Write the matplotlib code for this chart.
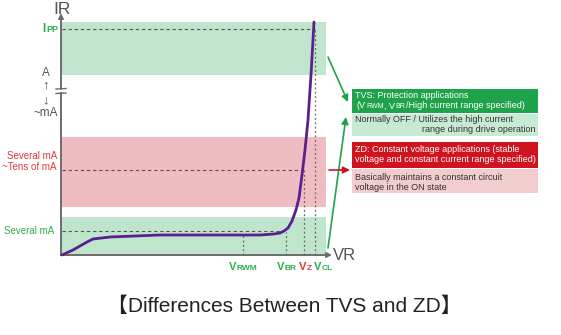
import matplotlib
matplotlib.use("Agg")
import matplotlib.pyplot as plt
from matplotlib.patches import Rectangle
from matplotlib.offsetbox import TextArea, HPacker, AnnotationBbox

plt.rcParams['font.family'] = ['Liberation Sans', 'Noto Sans CJK JP', 'DejaVu Sans']

# diagram units: origin of the IR/VR axes at (0, 0)
curve_v = [1, 12, 26, 32, 49, 99, 199, 213, 219, 223, 227, 231, 235, 238, 241, 244, 247, 250, 253]
curve_i = [0, 5, 13, 16, 18, 20, 20, 21, 22, 24, 27, 34, 45, 57, 80, 105, 135, 180, 233]

# current levels (dashed lines) and bands
i_pp = 226
i_zd = 85
i_low = 24
bands = [(180, 233, 'tvs'), (48, 118, 'zd'), (0, 38, 'tvs')]

# voltage markers
v_subs = ['RWM', 'BR', 'Z', 'CL']
v_pos = [182, 225, 243, 254]
v_top = [20, 23, i_zd, i_pp]
v_col = ['g', 'g', 'r', 'g']

GREEN_BAND = '#bfe5cc'
RED_BAND = '#efbdc1'
GREEN_TXT = '#2fae4e'
RED_TXT = '#e8353c'
DARK_GREEN = '#1fa34a'
DARK_RED = '#cf1420'
LIGHT_GREEN = '#c8e9d2'
LIGHT_RED = '#f1cdd0'
PURPLE = '#5b1f8e'
AXIS = '#6b6b6b'

fig = plt.figure(figsize=(5.61, 3.35), dpi=100)
ax = fig.add_axes([0, 0, 1, 1])
ax.set_xlim(-61, 500)
ax.set_ylim(-80, 255)
ax.axis('off')


def packed(x, y, parts, color, align=(0.5, 0.5), weight='bold'):
    """Row of text pieces (size, text) sharing one baseline."""
    kids = [TextArea(s, textprops=dict(fontsize=fs, fontweight=weight, color=color))
            for fs, s in parts]
    pack = HPacker(children=kids, align='baseline', pad=0, sep=0.3)
    ab = AnnotationBbox(pack, (x, y), box_alignment=align, frameon=False, pad=0, zorder=5)
    ax.add_artist(ab)


# bands
for lo, hi, kind in bands:
    ax.add_patch(Rectangle((1, lo), 264, hi - lo,
                           color=GREEN_BAND if kind == 'tvs' else RED_BAND, lw=0, zorder=1))

# dashed current levels
dash = dict(ls=(0, (3, 2.5)), color='#555555', lw=0.8, zorder=2)
ax.plot([1, v_pos[3]], [i_pp, i_pp], **dash)
ax.plot([1, v_pos[2]], [i_zd, i_zd], **dash)
ax.plot([1, 222], [i_low, i_low], **dash)

# dotted voltage markers
for x, top in zip(v_pos, v_top):
    ax.plot([x, x], [0, top], ls=(0, (1.5, 2)), color='#666666', lw=0.9, zorder=2)

# curve
ax.plot(curve_v, curve_i, color=PURPLE, lw=2.0, zorder=4, solid_capstyle='round')

# axes with break
ax.plot([0, 0], [0, 162], color=AXIS, lw=1.4, zorder=3)
ax.annotate('', xy=(0, 242), xytext=(0, 166),
            arrowprops=dict(arrowstyle='-|>', color=AXIS, lw=1.4,
                            mutation_scale=7, shrinkA=0, shrinkB=0), zorder=3)
ax.plot([-5, 5], [166, 166.5], color=AXIS, lw=1.0, zorder=3)
ax.plot([-5, 5], [161.5, 162], color=AXIS, lw=1.0, zorder=3)
ax.annotate('', xy=(271, 0), xytext=(0, 0),
            arrowprops=dict(arrowstyle='-|>', color=AXIS, lw=1.4,
                            mutation_scale=7, shrinkA=0, shrinkB=0), zorder=3)
ax.text(1, 246, 'IR', fontsize=12.5, color='#555555', va='center', ha='center')
ax.text(272, -1, 'VR', fontsize=12, color='#555555', va='center', ha='left')

# left labels
packed(-3, i_pp, [(8.5, 'I'), (6.5, 'PP')], GREEN_TXT, align=(1.0, 0.5))
for y, s, fs in [(182, 'A', 8.5), (170, '↑', 9.5), (155, '↓', 9.5), (142, '~mA', 8.5)]:
    ax.text(-15, y, s, fontsize=fs, color='#555555', ha='center', va='center')
ax.text(-4, 99, 'Several mA', fontsize=7, color=RED_TXT, ha='right', va='center')
ax.text(-4, 88, '~Tens of mA', fontsize=7, color=RED_TXT, ha='right', va='center')
ax.text(-7, i_low, 'Several mA', fontsize=7, color=GREEN_TXT, ha='right', va='center')

# voltage labels (VCL sits to the right of its line)
label_shift = [0, 1, 1, 8]
for sub, x, c, dx in zip(v_subs, v_pos, v_col, label_shift):
    packed(x + dx, -12, [(8, 'V'), (6, sub)], GREEN_TXT if c == 'g' else RED_TXT)

# right info boxes
FS = 6.5
box_rects = [(142, 24, DARK_GREEN), (119, 22, LIGHT_GREEN), (87, 26, DARK_RED), (62, 24, LIGHT_RED)]
for y0, h, fc in box_rects:
    ax.add_patch(Rectangle((291, y0), 186, h, color=fc, lw=0, zorder=2))

ax.text(294, 159, 'TVS: Protection applications', fontsize=FS, color='white', va='center', zorder=3)
packed(296, 149, [(FS, '(V'), (5, 'RWM'), (FS, ', V'), (5, 'BR'),
                  (FS, '/High current range specified)')], 'white', align=(0, 0.5), weight='normal')
ax.text(294, 135, 'Normally OFF / Utilizes the high current', fontsize=FS, color='#333333',
        va='center', zorder=3)
ax.text(474, 125, 'range during drive operation', fontsize=FS, color='#333333',
        va='center', ha='right', zorder=3)
ax.text(294, 105, 'ZD: Constant voltage applications (stable', fontsize=FS, color='white',
        va='center', zorder=3)
ax.text(294, 95, 'voltage and constant current range specified)', fontsize=FS, color='white',
        va='center', zorder=3)
ax.text(294, 78, 'Basically maintains a constant circuit', fontsize=FS, color='#333333',
        va='center', zorder=3)
ax.text(294, 68, 'voltage in the ON state', fontsize=FS, color='#333333', va='center', zorder=3)

# arrows to boxes
arrow = dict(arrowstyle='-|>', lw=1.2, mutation_scale=10, shrinkA=0, shrinkB=0)
ax.annotate('', xy=(287, 153), xytext=(267, 198), arrowprops=dict(color=DARK_GREEN, **arrow))
ax.annotate('', xy=(285, 138), xytext=(267, 7), arrowprops=dict(color=DARK_GREEN, **arrow))
ax.annotate('', xy=(289, 85), xytext=(268, 85), arrowprops=dict(color=DARK_RED, **arrow))

# title
ax.text(223, -51, '【Differences Between TVS and ZD】', fontsize=15, color='#222222',
        ha='center', va='center')

fig.savefig('out.png', dpi=100)
